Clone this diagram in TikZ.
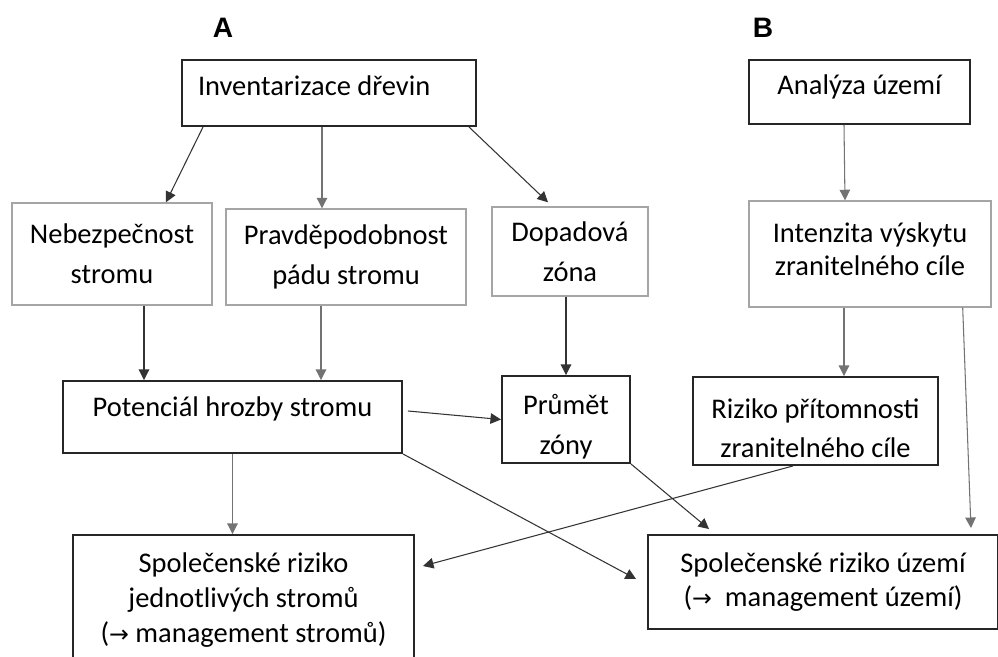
\documentclass[tikz,border=0pt]{standalone}
\usepackage{fontspec}
\setmainfont{Carlito}
\newfontfamily\headfont{Liberation Sans}
\newfontfamily\symfont{DejaVu Sans}
\usetikzlibrary{arrows.meta}

\definecolor{boxline}{RGB}{38,38,38}
\definecolor{greyline}{RGB}{165,165,165}

\newcommand{\toarrow}{{\symfont\fontsize{13.5}{13.5}\selectfont →}}
\newcommand{\lowstrut}{\rule{0pt}{19.5pt}}

\begin{document}
\begin{tikzpicture}[
  every node/.style={font=\fontsize{16.2}{22.7}\selectfont, align=center, inner sep=0pt},
  box/.style={draw=boxline, line width=1.1pt, rectangle},
  softbox/.style={draw=greyline, line width=0.8pt, rectangle},
  oneline/.style={text height=8pt, text depth=4.6pt},
  tight/.style={font=\fontsize{16.2}{19.8}\selectfont},
  link/.style={-{Triangle[width=6pt,length=6pt]}, draw=black!80, line width=0.6pt},
  softlink/.style={link, draw=black!55},
]
\useasboundingbox (0,0) rectangle (19.96,-13.14);

% headings
\node[font=\headfont\bfseries\fontsize{16}{19}\selectfont] (labA) at (4.46,-0.56) {A};
\node[font=\headfont\bfseries\fontsize{16}{19}\selectfont] (labB) at (15.26,-0.56) {B};

% top row
\node[box, oneline, minimum width=5.88cm, minimum height=1.32cm, text width=5.24cm, inner xsep=0.32cm, align=flush left] (inv) at (6.58,-1.86) {Inventarizace dřevin};
\node[box, oneline, minimum width=4.42cm, minimum height=1.28cm] (ana) at (17.19,-1.84) {Analýza území};

% second row (grey frames)
\node[softbox, minimum width=4.0cm, minimum height=2.04cm] (neb) at (2.24,-5.08) {Nebezpečnost\\stromu};
\node[softbox, minimum width=4.8cm, minimum height=1.92cm] (prav) at (6.92,-5.14) {Pravděpodobnost\\pádu stromu};
\node[softbox, minimum width=3.12cm, minimum height=1.78cm] (dop) at (11.40,-5.03) {Dopadová\\zóna};
\node[softbox, minimum width=4.84cm, minimum height=2.12cm, font=\fontsize{16.2}{18.7}\selectfont, text depth=5.7pt] (inten) at (17.40,-5.08) {Intenzita výskytu\\zranitelného cíle};

% third row
\node[box, text height=6pt, text depth=7pt, minimum width=6.78cm, minimum height=1.44cm] (pot) at (4.65,-8.34) {Potenciál hrozby stromu};
\node[box, minimum width=2.56cm, minimum height=1.74cm] (prum) at (11.32,-8.39) {\lowstrut Průmět\\zóny};
\node[box, minimum width=4.9cm, minimum height=1.76cm] (riz) at (16.31,-8.42) {\lowstrut Riziko přítomnosti\\zranitelného cíle};

% results
\node[box, tight, minimum width=6.82cm, minimum height=2.6cm] (sra) at (4.87,-12.0) {Společenské riziko\\jednotlivých stromů\\(\toarrow\ management stromů)};
\node[box, tight, minimum width=7.0cm, minimum height=1.88cm] (sru) at (16.46,-11.64) {Společenské riziko území\\(\toarrow~ management území)};

% arrows A
\draw[link] ([xshift=0.44cm]inv.south west) -- ([xshift=1.08cm]neb.north);
\draw[softlink] ([xshift=-0.48cm]prav.north |- inv.south) -- ([xshift=-0.48cm]prav.north);
\draw[link] ([xshift=-0.16cm]inv.south east) -- ([shift={(-0.44,0.08)}]dop.north);
\draw[link] ([xshift=0.64cm]neb.south) -- ([xshift=0.64cm]neb.south |- pot.north);
\draw[softlink] ([xshift=-0.5cm]prav.south) -- ([xshift=-0.5cm]prav.south |- pot.north);
\draw[link] (dop.south -| prum.north) -- (prum.north);
\draw[link] ([shift={(0.1,0.12)}]pot.east) -- (prum.west);
\draw[softlink] (pot.south) -- (pot.south |- sra.north);
\draw[link] (pot.south east) -- ([shift={(-0.22,0.06)}]sru.west);
\draw[link] (prum.south east) -- ([shift={(1.24,0.1)}]sru.north west);

% arrows B
\draw[softlink] ([xshift=-0.31cm]ana.south) -- ([xshift=-0.5cm]inten.north);
\draw[softlink] ([xshift=-0.52cm]inten.south) -- ([xshift=-0.52cm]inten.south |- riz.north);
\draw[softlink] ([xshift=-0.58cm]inten.south east) -- ([shift={(-0.56,0.12)}]sru.north east);
\draw[link] ([xshift=-0.45cm]riz.south) -- ([shift={(0.16,-0.64)}]sra.north east);
\end{tikzpicture}
\end{document}
